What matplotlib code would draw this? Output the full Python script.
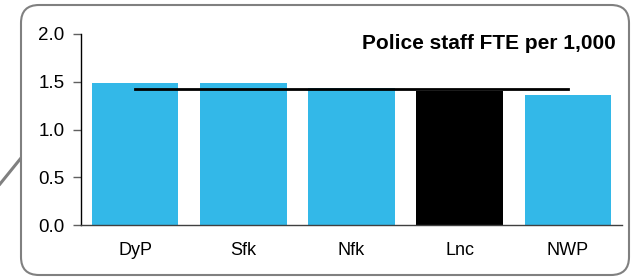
import matplotlib
matplotlib.use("Agg")
import matplotlib.pyplot as plt
from matplotlib.patches import FancyBboxPatch
from matplotlib.lines import Line2D
from matplotlib.transforms import IdentityTransform

categories = ["DyP", "Sfk", "Nfk", "Lnc", "NWP"]
values = [1.487, 1.487, 1.43, 1.406, 1.361]
bar_colors = ["#33B8E8", "#33B8E8", "#33B8E8", "#000000", "#33B8E8"]
average = 1.427
yticks = [0.0, 0.5, 1.0, 1.5, 2.0]
title = "Police staff FTE per 1,000"

plt.rcParams['font.family'] = ['Liberation Sans', 'DejaVu Sans']

W, H = 639, 279
fig = plt.figure(figsize=(W/100, H/100), dpi=100)

# rounded frame (pixel coordinates, origin bottom-left)
box = FancyBboxPatch((21, H-275), 629-21, 275-5,
                     boxstyle="round,pad=0,rounding_size=18",
                     transform=IdentityTransform(), facecolor="white",
                     edgecolor="#808080", linewidth=1.5, zorder=-5)
fig.patches.append(box)
fig.lines.append(Line2D([0, 21], [H-184, H-158], transform=IdentityTransform(),
                        color="#808080", linewidth=2.2, zorder=-5))

ax = fig.add_axes([81/W, 54/H, (622-81)/W, (225-34)/H])
ax.patch.set_visible(False)
x = range(len(categories))
ax.bar(x, values, width=0.8, color=bar_colors, zorder=2)
ax.plot([0, len(categories)-1], [average, average], color="black", linewidth=2, zorder=3)

ax.set_xlim(-0.5, len(categories)-0.5)
ax.set_ylim(0, 2.0)
ax.set_yticks(yticks)
ax.set_yticklabels([f"{v:.1f}" for v in yticks], fontsize=13.5)
ax.set_xticks(list(x))
ax.set_xticklabels(categories, fontsize=13)
ax.tick_params(axis='x', length=0, pad=12)
ax.tick_params(axis='y', length=6, width=1, color="#606060", direction='out', pad=6)
for s in ["top", "right"]:
    ax.spines[s].set_visible(False)
ax.spines["left"].set_color("#000000")
ax.spines["bottom"].set_color("#404040")
ax.spines["left"].set_linewidth(1)
ax.spines["bottom"].set_linewidth(1)

ax.text(0.989, 0.92, title, transform=ax.transAxes, ha="right", va="baseline",
        fontsize=15, fontweight="bold")

fig.savefig("out.png", dpi=100)
